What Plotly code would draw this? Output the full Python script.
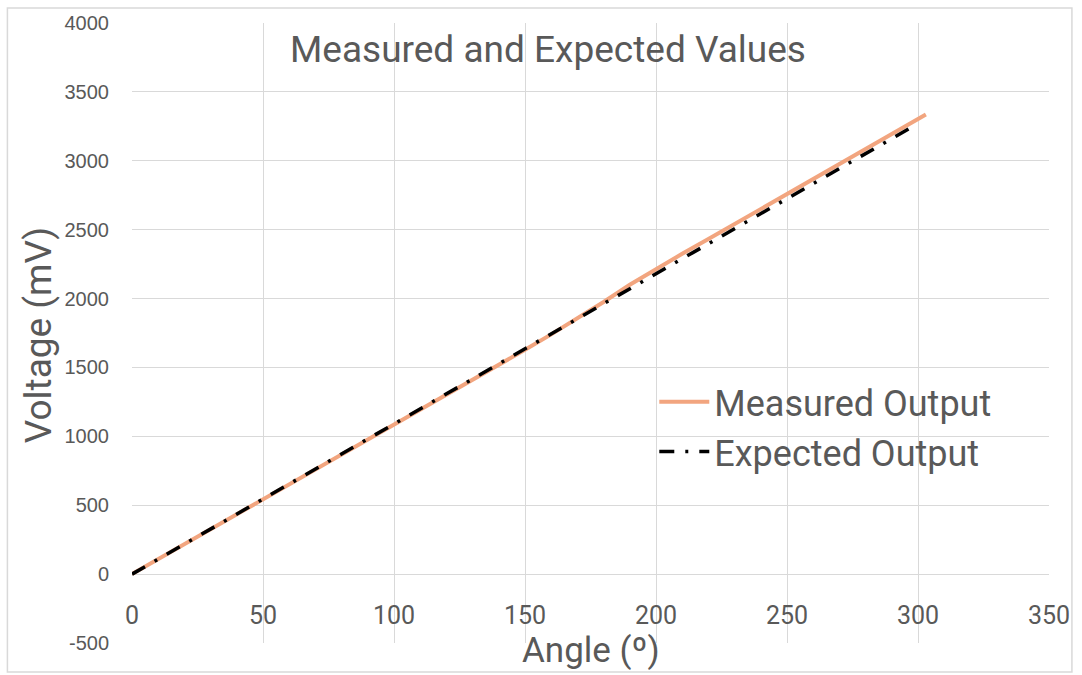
import plotly.graph_objects as go

# Data
measured_angle = [0, 10, 20, 30, 40, 50, 60, 70, 80, 90, 100, 110, 120, 130, 140, 150,
                  160, 170, 180, 190, 200, 210, 220, 230, 240, 250, 260, 270, 280, 290, 300, 303]
measured_mv = [0, 108, 216, 325, 434, 543, 651, 760, 868, 977, 1085, 1194, 1302, 1411, 1520, 1628,
               1740, 1855, 1975, 2100, 2215, 2325, 2432, 2540, 2648, 2757, 2866, 2975, 3085, 3195, 3303, 3336]

expected_angle = [0, 10, 20, 30, 40, 50, 60, 70, 80, 90, 100, 110, 120, 130, 140, 150,
                  160, 170, 180, 190, 200, 210, 220, 230, 240, 250, 260, 270, 280, 290, 300]
expected_mv = [0, 109, 218, 327, 436, 545, 654, 763, 872, 981, 1090, 1199, 1308, 1417, 1526, 1635,
               1744, 1853, 1962, 2071, 2180, 2289, 2398, 2507, 2616, 2725, 2834, 2943, 3052, 3161, 3270]

x_ticks = [0, 50, 100, 150, 200, 250, 300, 350]
y_ticks = [-500, 0, 500, 1000, 1500, 2000, 2500, 3000, 3500, 4000]

TEXT = "#595959"
GRID = "#d9d9d9"

W, H = 1082, 675
L, R, T, B = 132, 30, 21, 32
PW, PH = W - L - R, H - T - B


def px(xp):
    return (xp - L) / PW


def py(yp):
    return (H - B - yp) / PH


fig = go.Figure()
fig.add_trace(go.Scatter(
    x=measured_angle, y=measured_mv, mode="lines", name="Measured Output",
    line=dict(color="#F2A57F", width=4),
))
fig.add_trace(go.Scatter(
    x=expected_angle, y=expected_mv, mode="lines", name="Expected Output",
    line=dict(color="black", width=3.5, dash="15px,11px,3px,11px"),
))

fig.update_layout(
    width=W, height=H,
    margin=dict(l=L, r=R, t=T, b=B),
    paper_bgcolor="white", plot_bgcolor="white",
    font=dict(family="Roboto, Liberation Sans, sans-serif", color=TEXT),
    showlegend=True,
    legend=dict(
        x=px(656), y=py(371), xanchor="left", yanchor="top",
        bgcolor="rgba(0,0,0,0)", borderwidth=0,
        font=dict(size=36, color=TEXT, family="Roboto"),
        itemwidth=50, tracegroupgap=0,
    ),
    xaxis=dict(
        range=[0, 350], tickvals=x_ticks, ticktext=[str(v) for v in x_ticks],
        showgrid=True, gridcolor=GRID, gridwidth=1.3,
        zeroline=False, showline=False,
        anchor="free", position=py(574),
        ticks="", ticklabelstandoff=24,
        tickfont=dict(size=25, color=TEXT, family="Roboto"),
    ),
    yaxis=dict(
        range=[-500, 4000], tickvals=y_ticks, ticktext=[str(v) for v in y_ticks],
        showgrid=True, gridcolor=GRID, gridwidth=1.3,
        zeroline=False, showline=False,
        ticks="", ticklabelstandoff=22,
        tickfont=dict(size=20, color=TEXT, family="Liberation Sans, Arial"),
    ),
    shapes=[dict(
        type="rect", xref="paper", yref="paper",
        x0=px(7), x1=px(1075), y0=py(672), y1=py(6),
        line=dict(color=GRID, width=1.5), fillcolor="rgba(0,0,0,0)", layer="below",
    )],
    annotations=[
        dict(text="Measured and Expected Values", xref="paper", yref="paper",
             x=px(549), y=py(48), xanchor="center", yanchor="middle", showarrow=False,
             font=dict(size=37, color=TEXT, family="Roboto")),
        dict(text="Angle (º)", xref="paper", yref="paper",
             x=px(592), y=py(651), xanchor="center", yanchor="middle", showarrow=False,
             font=dict(size=35, color=TEXT, family="Roboto")),
        dict(text="Voltage (mV)", xref="paper", yref="paper", textangle=-90,
             x=px(39), y=py(334), xanchor="center", yanchor="middle", showarrow=False,
             font=dict(size=37, color=TEXT, family="Roboto")),
    ],
)

fig.write_html("out.html")
